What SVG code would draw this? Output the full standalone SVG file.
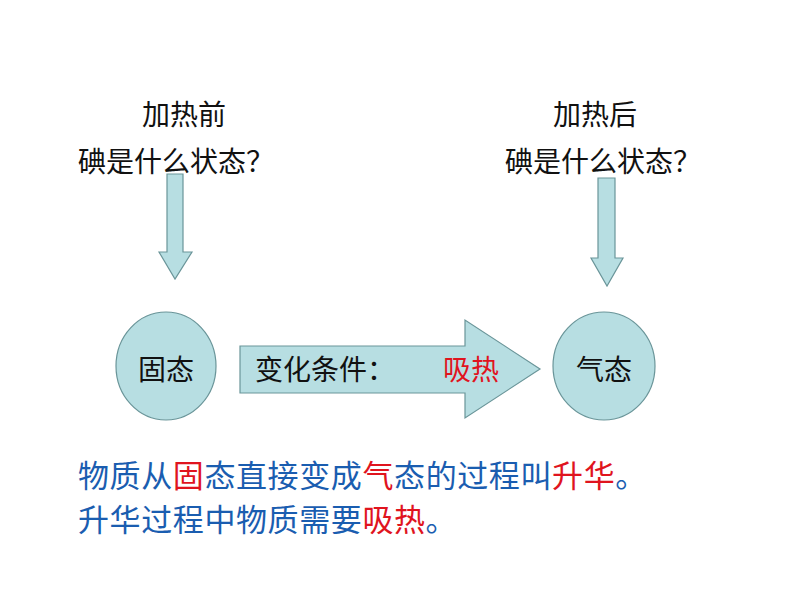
<svg xmlns="http://www.w3.org/2000/svg" width="794" height="596" viewBox="0 0 794 596">
<style>
.t{font-family:"Noto Sans CJK SC","Noto Sans",sans-serif;fill:#111;}
.shape{fill:#b7dee2;stroke:#6a9599;stroke-width:1.2;}
.blue{fill:#1a5db0;}
.red{fill:#e0141e;}
</style>
<rect width="794" height="596" fill="#fff"/>
<g id="q-before">
<text class="t" x="184" y="125" font-size="28" text-anchor="middle">加热前</text>
<text class="t" x="78" y="172" font-size="28">碘是什么状态？</text>
</g>
<g id="q-after">
<text class="t" x="595" y="125" font-size="28" text-anchor="middle">加热后</text>
<text class="t" x="505" y="172" font-size="28">碘是什么状态？</text>
</g>
<g id="connectors">
<polygon class="shape" points="167,174 183,174 183,252 192,252 175,279 159,252 167,252"/>
<polygon class="shape" points="598,178 615,178 615,258 623,258 607,286 591,258 598,258"/>
</g>
<g id="solid">
<ellipse class="shape" cx="166" cy="366" rx="50" ry="54"/>
<text class="t" x="166" y="380" font-size="28" text-anchor="middle">固态</text>
</g>
<g id="condition">
<polygon class="shape" points="240,346 465,346 465,320 540,369 465,418 465,393 240,393"/>
<text class="t" x="255" y="380" font-size="28">变化条件：</text>
<text class="t red" x="443" y="380" font-size="28">吸热</text>
</g>
<g id="gas">
<ellipse class="shape" cx="604" cy="366" rx="51" ry="54"/>
<text class="t" x="604" y="380" font-size="28" text-anchor="middle">气态</text>
</g>
<g id="summary">
<text class="t blue" x="78" y="487" font-size="31" letter-spacing="0.6">物质从<tspan class="red">固</tspan>态直接变成<tspan class="red">气</tspan>态的过程叫<tspan class="red">升华</tspan>。</text>
<text class="t blue" x="78" y="531" font-size="31" letter-spacing="0.6">升华过程中物质需要<tspan class="red">吸热</tspan>。</text>
</g>
</svg>
